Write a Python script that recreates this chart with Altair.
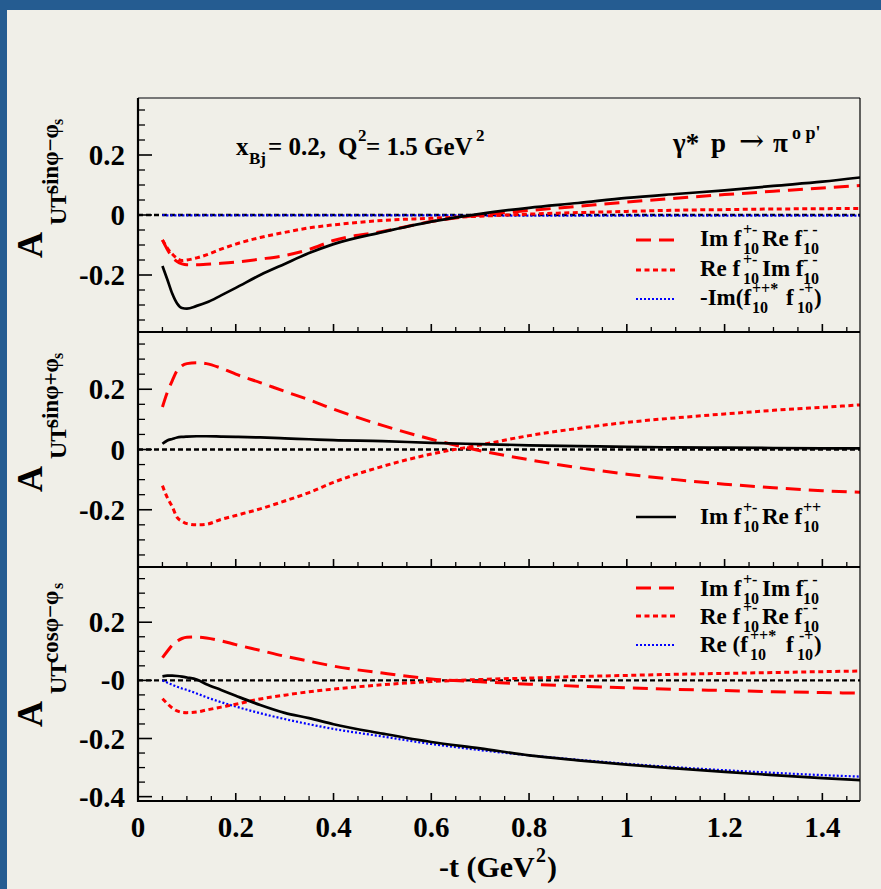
import altair as alt
import pandas as pd

# ---------------- data ----------------
T = [0.05, 0.06, 0.07, 0.08, 0.09, 0.10, 0.12, 0.14, 0.17, 0.20, 0.25, 0.30, 0.35, 0.40,
     0.50, 0.60, 0.70, 0.80, 0.90, 1.00, 1.10, 1.20, 1.30, 1.40, 1.477]

# panel 1 : A_UT^{sin(phi-phi_s)}
P1_TOTAL = [-0.170, -0.215, -0.262, -0.295, -0.310, -0.312, -0.303, -0.292, -0.268, -0.243,
            -0.200, -0.163, -0.127, -0.097, -0.057, -0.022, 0.004, 0.024, 0.040, 0.057,
            0.070, 0.082, 0.097, 0.111, 0.125]
P1_IM_RE = [-0.083, -0.115, -0.140, -0.155, -0.163, -0.166, -0.166, -0.164, -0.161, -0.157,
            -0.147, -0.135, -0.115, -0.085, -0.055, -0.022, 0.000, 0.015, 0.029, 0.043,
            0.056, 0.068, 0.079, 0.090, 0.098]
P1_RE_IM = [-0.083, -0.110, -0.130, -0.145, -0.152, -0.150, -0.143, -0.133, -0.114, -0.097,
            -0.075, -0.058, -0.043, -0.033, -0.018, -0.011, -0.004, 0.003, 0.008, 0.012,
            0.016, 0.018, 0.020, 0.021, 0.022]
P1_IM_PP = [0.000, -0.001, -0.001, -0.001, -0.001, -0.001, -0.001, -0.001, -0.001, -0.001,
            -0.001, -0.001, -0.001, -0.001, -0.001, -0.001, -0.002, -0.002, -0.002, -0.002,
            -0.002, -0.002, -0.002, -0.002, -0.002]

# panel 2 : A_UT^{sin(phi+phi_s)}
P2_TOTAL = [0.019, 0.030, 0.035, 0.040, 0.042, 0.043, 0.044, 0.044, 0.043, 0.042,
            0.040, 0.037, 0.034, 0.031, 0.028, 0.022, 0.018, 0.014, 0.011, 0.009,
            0.007, 0.006, 0.005, 0.004, 0.004]
P2_IM_RE = [0.141, 0.190, 0.228, 0.262, 0.278, 0.285, 0.288, 0.285, 0.270, 0.250,
            0.222, 0.193, 0.165, 0.134, 0.080, 0.034, -0.004, -0.034, -0.060, -0.082,
            -0.100, -0.115, -0.127, -0.137, -0.142]
P2_RE_IM = [-0.120, -0.160, -0.190, -0.225, -0.238, -0.246, -0.250, -0.248, -0.232, -0.219,
            -0.197, -0.171, -0.143, -0.109, -0.056, -0.015, 0.015, 0.046, 0.070, 0.090,
            0.105, 0.118, 0.130, 0.140, 0.148]

# panel 3 : A_UT^{cos(phi-phi_s)}
P3_TOTAL = [0.014, 0.016, 0.016, 0.015, 0.013, 0.010, 0.003, -0.013, -0.033, -0.053,
            -0.085, -0.112, -0.130, -0.151, -0.183, -0.212, -0.234, -0.258, -0.275, -0.290,
            -0.303, -0.315, -0.326, -0.336, -0.343]
P3_IM_IM = [0.078, 0.100, 0.121, 0.135, 0.144, 0.148, 0.149, 0.146, 0.136, 0.123,
            0.103, 0.083, 0.066, 0.049, 0.025, 0.005, -0.005, -0.013, -0.020, -0.026,
            -0.031, -0.035, -0.039, -0.042, -0.044]
P3_RE_RE = [-0.063, -0.080, -0.095, -0.105, -0.110, -0.111, -0.109, -0.102, -0.092, -0.082,
            -0.064, -0.051, -0.039, -0.030, -0.015, -0.004, 0.003, 0.008, 0.013, 0.017,
            0.021, 0.024, 0.027, 0.030, 0.032]
P3_RE_PP = [0.000, -0.008, -0.015, -0.022, -0.028, -0.033, -0.045, -0.058, -0.075, -0.090,
            -0.113, -0.133, -0.151, -0.167, -0.193, -0.219, -0.240, -0.258, -0.273, -0.287,
            -0.299, -0.309, -0.318, -0.326, -0.331]

X_DOMAIN = [0, 1.477]
Y_DOMAINS = [[-0.39, 0.39], [-0.39, 0.39], [-0.415, 0.39]]

X_MAJOR = [0.0, 0.2, 0.4, 0.6, 0.8, 1.0, 1.2, 1.4]
X_LABELS = ["0", "0.2", "0.4", "0.6", "0.8", "1", "1.2", "1.4"]
X_MINOR = [0.05, 0.1, 0.15, 0.25, 0.3, 0.35, 0.45, 0.5, 0.55, 0.65, 0.7, 0.75, 0.85, 0.9,
           0.95, 1.05, 1.1, 1.15, 1.25, 1.3, 1.35, 1.45]
Y_MAJOR = [[-0.2, 0.0, 0.2], [-0.2, 0.0, 0.2], [-0.4, -0.2, 0.0, 0.2]]
Y_LABELS = [["-0.2", "0", "0.2"], ["-0.2", "0", "0.2"], ["-0.4", "-0.2", "-0", "0.2"]]
Y_MINOR = [[-0.35, -0.3, -0.25, -0.15, -0.1, -0.05, 0.05, 0.1, 0.15, 0.25, 0.3, 0.35],
           [-0.35, -0.3, -0.25, -0.15, -0.1, -0.05, 0.05, 0.1, 0.15, 0.25, 0.3, 0.35],
           [-0.35, -0.3, -0.25, -0.15, -0.1, -0.05, 0.05, 0.1, 0.15, 0.25, 0.3, 0.35]]

# ---------------- style ----------------
FONT = "Liberation Serif"
BLUE_FRAME = "#255c91"
BEIGE = "#f0efe8"
RED = "#ff0000"
BLUE = "#0000ff"
DASH = [15, 8]
DOT = [5, 3.5]
FINE = [2, 2]

W = 722
LEFT = 138
TOPS = [98, 332, 567]
HEIGHTS = [234, 235, 234]

one = pd.DataFrame({"k": [0]})


def txt(s, px, py, size, oy, angle=0, align="left", color="black", font=FONT, weight="bold"):
    return alt.Chart(one).mark_text(
        text=s, font=font, fontWeight=weight, fontSize=size, align=align,
        baseline="alphabetic", angle=angle, color=color
    ).encode(x=alt.value(px - LEFT), y=alt.value(py - oy))


def prule(x1, y1, x2, y2, color="black", width=2.0, dash=None):
    kw = dict(color=color, strokeWidth=width)
    if dash:
        kw["strokeDash"] = dash
    return alt.Chart(one).mark_rule(**kw).encode(
        x=alt.value(x1), y=alt.value(y1), x2=alt.value(x2), y2=alt.value(y2))


def prect(x1, y1, x2, y2, color):
    return alt.Chart(one).mark_rect(color=color).encode(
        x=alt.value(x1), x2=alt.value(x2), y=alt.value(y1), y2=alt.value(y2))


def curve(vals, xs, ys, color, width, dash=None):
    df = pd.DataFrame({"t": T, "v": vals})
    kw = dict(color=color, strokeWidth=width, clip=True, interpolate="monotone")
    if dash:
        kw["strokeDash"] = dash
    return alt.Chart(df).mark_line(**kw).encode(
        x=alt.X("t:Q", scale=xs, axis=None), y=alt.Y("v:Q", scale=ys, axis=None))


def legend_row(pieces, base, oy):
    out = []
    for s, px, kind in pieces:
        if kind == "n":
            out.append(txt(s, px, base, 23, oy))
        elif kind == "sup":
            out.append(txt(s, px, base - 11, 16, oy))
        else:
            out.append(txt(s, px, base + 8, 16, oy))
    return out


def panel(i, series, legend, extra):
    oy = TOPS[i]
    h = HEIGHTS[i]
    xs = alt.Scale(domain=X_DOMAIN, nice=False, zero=False)
    ys = alt.Scale(domain=Y_DOMAINS[i], nice=False, zero=False)
    layers = []
    layers += extra.get("bg", [])
    # zero line
    layers.append(
        alt.Chart(pd.DataFrame({"v": [0.0]})).mark_rule(
            color="black", strokeWidth=2.3, strokeDash=[5, 3]).encode(
            y=alt.Y("v:Q", scale=ys, axis=None), x=alt.value(0), x2=alt.value(W)))
    for vals, color, width, dash in series:
        layers.append(curve(vals, xs, ys, color, width, dash))
    # y ticks
    layers.append(alt.Chart(pd.DataFrame({"v": Y_MAJOR[i]})).mark_rule(
        color="black", strokeWidth=1.6).encode(
        y=alt.Y("v:Q", scale=ys, axis=None), x=alt.value(0), x2=alt.value(14)))
    layers.append(alt.Chart(pd.DataFrame({"v": Y_MINOR[i]})).mark_rule(
        color="black", strokeWidth=1.3).encode(
        y=alt.Y("v:Q", scale=ys, axis=None), x=alt.value(0), x2=alt.value(7)))
    # x ticks
    layers.append(alt.Chart(pd.DataFrame({"t": X_MAJOR})).mark_rule(
        color="black", strokeWidth=1.6).encode(
        x=alt.X("t:Q", scale=xs, axis=None), y=alt.value(h), y2=alt.value(h - 8)))
    layers.append(alt.Chart(pd.DataFrame({"t": X_MINOR})).mark_rule(
        color="black", strokeWidth=1.3).encode(
        x=alt.X("t:Q", scale=xs, axis=None), y=alt.value(h), y2=alt.value(h - 5)))
    # y tick labels
    layers.append(alt.Chart(pd.DataFrame({"v": Y_MAJOR[i], "lab": Y_LABELS[i]})).mark_text(
        font=FONT, fontWeight="bold", fontSize=29, align="right", baseline="alphabetic",
        dy=10).encode(y=alt.Y("v:Q", scale=ys, axis=None), x=alt.value(-13), text="lab:N"))
    # frame
    if i == 0:
        layers.append(prule(0, 0, W, 0, color="#777777", width=2))
    layers.append(prule(W, 0, W, h, width=1.2))
    layers.append(prule(0, h, W, h, width=2))
    layers.append(prule(0, 0, 0, h + (1 if i == 2 else 0), width=2.2))
    # legend samples and text
    for (y_s, color, width, dash), (pieces, base) in legend:
        layers.append(prule(636 - LEFT, y_s - oy, 676 - LEFT, y_s - oy, color=color,
                            width=width, dash=dash))
        layers += legend_row(pieces, base, oy)
    layers += extra.get("text", [])
    return alt.layer(*layers).properties(width=W, height=h)


def ytitle(i, sup, s_start):
    oy = TOPS[i]
    return [
        txt("A", 42, oy + 160, 36, oy, angle=270),
        txt("UT", 66, oy + 127, 24, oy, angle=270),
        txt(sup, 58, oy + 96, 23, oy, angle=270),
        txt("s", 63, oy + s_start, 16, oy, angle=270),
    ]


# ---------------- panel 1 ----------------
oy1 = TOPS[0]
bg = [
    # beige page exactly the window size, blue top and left bands
    prect(-LEFT, -oy1, 881 - LEFT, 889 - oy1, BEIGE),
    prect(-LEFT, -oy1, 881 - LEFT, 10 - oy1, BLUE_FRAME),
    prect(-LEFT, -oy1, 7 - LEFT, 889 - oy1, BLUE_FRAME),
]
p1_text = [
    txt("x", 236, 155, 25, oy1), txt("Bj", 249, 164, 17, oy1),
    txt("= 0.2,", 268, 155, 25, oy1), txt("Q", 338, 155, 25, oy1),
    txt("2", 358, 141, 17, oy1), txt("= 1.5 GeV", 366, 155, 25, oy1),
    txt("2", 476, 141, 17, oy1),
    txt("γ*", 673, 152, 27, oy1), txt("p", 711, 152, 27, oy1),
    txt("→", 739, 151, 30, oy1, font="DejaVu Serif", weight="normal"),
    txt("π", 773, 152, 27, oy1), txt("o p'", 792, 139, 18, oy1),
] + ytitle(0, "sinφ−φ", 27)

p1_legend = [
    ((240, RED, 3, DASH), ([("Im f", 700, "n"), ("+-", 743, "sup"), ("10", 743, "sub"),
                            ("Re f", 762, "n"), ("- -", 803, "sup"), ("10", 803, "sub")], 246)),
    ((270, RED, 3, DOT), ([("Re f", 700, "n"), ("+-", 743, "sup"), ("10", 743, "sub"),
                           ("Im f", 762, "n"), ("- -", 803, "sup"), ("10", 803, "sub")], 276)),
    ((299, BLUE, 2.2, FINE), ([("-Im(f", 700, "n"), ("++*", 752, "sup"), ("10", 752, "sub"),
                               ("f", 786, "n"), ("-+", 799, "sup"), ("10", 797, "sub"),
                               (")", 814, "n")], 305)),
]
p1 = panel(0, [
    (P1_IM_PP, BLUE, 2.2, FINE),
    (P1_RE_IM, RED, 3, DOT),
    (P1_IM_RE, RED, 3, DASH),
    (P1_TOTAL, "black", 2.7, None),
], p1_legend, {"bg": bg, "text": p1_text})

# ---------------- panel 2 ----------------
p2_legend = [
    ((517, "black", 2.7, None), ([("Im f", 700, "n"), ("+-", 743, "sup"), ("10", 743, "sub"),
                                  ("Re f", 762, "n"), ("++", 803, "sup"), ("10", 803, "sub")], 524)),
]
p2 = panel(1, [
    (P2_RE_IM, RED, 3, DOT),
    (P2_IM_RE, RED, 3, DASH),
    (P2_TOTAL, "black", 2.7, None),
], p2_legend, {"text": ytitle(1, "sinφ+φ", 27)})

# ---------------- panel 3 ----------------
oy3 = TOPS[2]
xs3 = alt.Scale(domain=X_DOMAIN, nice=False, zero=False)
xlab = alt.Chart(pd.DataFrame({"t": X_MAJOR, "lab": X_LABELS})).mark_text(
    font=FONT, fontWeight="bold", fontSize=29, align="center", baseline="alphabetic").encode(
    x=alt.X("t:Q", scale=xs3, axis=None), y=alt.value(837 - oy3), text="lab:N")
p3_text = ytitle(2, "cosφ−φ", 22) + [
    xlab,
    txt("-t (GeV", 439, 877, 30, oy3), txt("2", 536, 862, 20, oy3), txt(")", 547, 877, 30, oy3),
]
p3_legend = [
    ((588, RED, 3, DASH), ([("Im f", 700, "n"), ("+-", 743, "sup"), ("10", 743, "sub"),
                            ("Im f", 762, "n"), ("- -", 803, "sup"), ("10", 803, "sub")], 596)),
    ((616, RED, 3, DOT), ([("Re f", 700, "n"), ("+-", 743, "sup"), ("10", 743, "sub"),
                           ("Re f", 762, "n"), ("- -", 803, "sup"), ("10", 803, "sub")], 624)),
    ((645, BLUE, 2.2, FINE), ([("Re (f", 700, "n"), ("++*", 750, "sup"), ("10", 750, "sub"),
                               ("f", 786, "n"), ("-+", 799, "sup"), ("10", 797, "sub"),
                               (")", 814, "n")], 652)),
]
p3 = panel(2, [
    (P3_RE_PP, BLUE, 2.2, FINE),
    (P3_RE_RE, RED, 3, DOT),
    (P3_IM_IM, RED, 3, DASH),
    (P3_TOTAL, "black", 2.7, None),
], p3_legend, {"text": p3_text})

chart = alt.vconcat(p1, p2, p3, spacing=0, bounds="flush").resolve_scale(
    x="independent", y="independent"
).properties(padding=0).configure(background=BEIGE).configure_view(strokeWidth=0)

chart.save("out.html", embed_options={"renderer": "svg", "actions": False})
